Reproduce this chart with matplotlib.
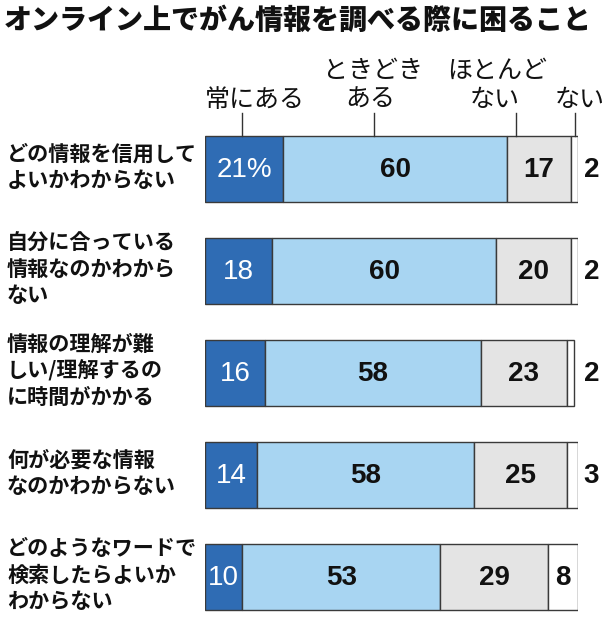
import numpy as np
import matplotlib
matplotlib.use("Agg")
import matplotlib.pyplot as plt
from matplotlib.transforms import blended_transform_factory

plt.rcParams['font.family'] = ['Noto Sans CJK JP', 'DejaVu Sans']

# data (percent)
questions = [
    "どの情報を信用して\nよいかわからない",
    "自分に合っている\n情報なのかわから\nない",
    "情報の理解が難\nしい/理解するの\nに時間がかかる",
    "何が必要な情報\nなのかわからない",
    "どのようなワードで\n検索したらよいか\nわからない",
]
always = [21, 18, 16, 14, 10]
sometimes = [60, 60, 58, 58, 53]
rarely = [17, 20, 23, 25, 29]
never = [2, 2, 2, 3, 8]

series = [always, sometimes, rarely, never]
colors = ['#2f6cb4', '#a8d5f2', '#e4e4e4', '#ffffff']
txt_colors = ['white', '#111111', '#111111', '#111111']

W, H = 610, 640
fig = plt.figure(figsize=(W / 100, H / 100), dpi=100)
fig.patch.set_facecolor('white')

# bar area: x 205..578 px, rows centered 169 + 102*i
ax = fig.add_axes([205 / W, (H - 628) / H, 373 / W, 510 / H])
ax.set_xlim(0, 100)
ax.set_ylim(4.5, -0.5)
ax.axis('off')

y = np.arange(len(questions))
bh = 0.647
num_font = ['Liberation Sans Narrow', 'Liberation Sans', 'DejaVu Sans']
left = np.zeros(len(questions))
for k, (vals, c) in enumerate(zip(series, colors)):
    vals = np.array(vals, dtype=float)
    ax.barh(y, vals, left=left, height=bh, color=c, edgecolor='#3a3a3a', linewidth=1.0)
    for i, v in enumerate(vals):
        label = f"{int(v)}%" if (k == 0 and i == 0) else f"{int(v)}"
        outside = (k == 3 and v < 5)
        xpos = 103.6 if outside else left[i] + v / 2
        ax.text(xpos, i + 0.01, label, ha='center', va='center', fontsize=20,
                color='#111111' if outside else txt_colors[k],
                family=num_font, weight='normal' if k == 0 else 'bold')
    left += vals

# category labels
tr = blended_transform_factory(fig.transFigure, ax.transData)
for i, q in enumerate(questions):
    ax.text(7 / W, i - 0.02, q, transform=tr, ha='left', va='center',
            fontsize=15.2, weight='bold', linespacing=1.3, color='#111111')

# legend labels with leader lines
top = -bh / 2
lead = [(10.0, '常にある', 13.4, None), (45.3, 'ある', 44.2, 'ときどき'),
        (83.3, 'ない', 77.7, 'ほとんど'), (99.2, 'ない', 100.5, None)]
for lx, lab, tx, upper in lead:
    ax.plot([lx, lx], [-0.55, top], color='#333333', lw=1.0, clip_on=False)
    ax.text(tx, -0.68, lab, ha='center', va='center', fontsize=18, color='#111111')
    if upper:
        ax.text(tx + (0.6 if upper == 'ほとんど' else 0.9), -0.965, upper,
                ha='center', va='center', fontsize=18, color='#111111')

fig.text(4 / W, 1 - 21 / H, "オンライン上でがん情報を調べる際に困ること",
         ha='left', va='center', fontsize=20.2, weight='heavy', color='#111111')

fig.savefig('out.png', dpi=100, facecolor='white')
